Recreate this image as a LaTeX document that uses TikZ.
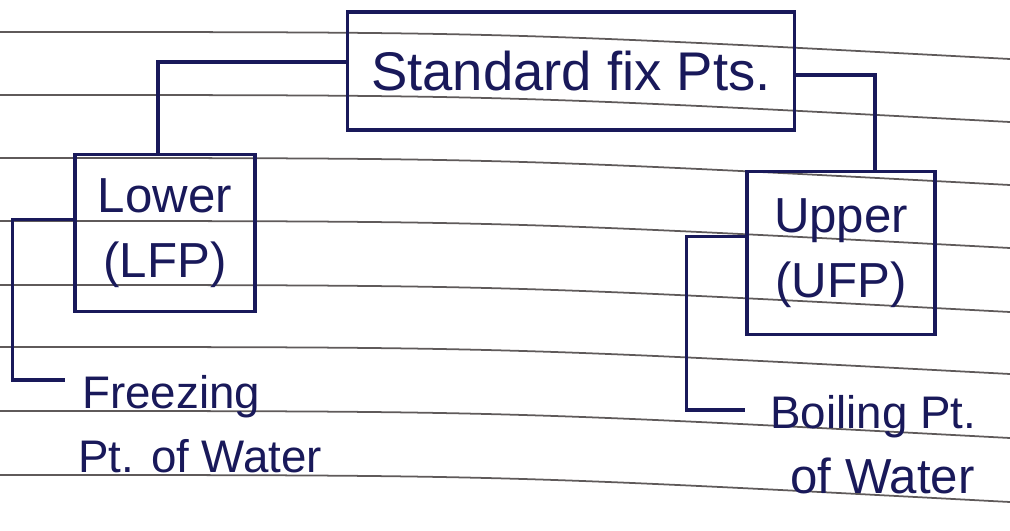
\documentclass[tikz,border=0pt]{standalone}
\usepackage{fontspec}
\setmainfont{Liberation Sans}
\usetikzlibrary{positioning, calc}
\definecolor{ink}{RGB}{25,25,90}
\definecolor{ruled}{RGB}{95,90,90}
\tikzset{
  box/.style={rectangle, draw=ink, text=ink, align=center,
    inner sep=0pt, line width=1.9pt},
  note/.style={text=ink, anchor=base west, inner sep=0pt,
    font=\fontsize{26}{30}\selectfont},
  link/.style={draw=ink, line width=1.9pt},
  paperline/.style={draw=ruled, line width=1pt}
}

\begin{document}
\begin{tikzpicture}[x=0.2mm, y=-0.2mm]
  \useasboundingbox (0,0) rectangle (1010,530);

  % Ruled paper
  \foreach \y in {32,95,158,221,285,347,411,475}
    \draw[paperline] (0,\y) .. controls (500,\y) .. (1010,\y+27);

  % Nodes
  \node[box, minimum width=8.94cm, minimum height=2.36cm,
    font=\fontsize{31}{36}\selectfont] (fixpts) at (571,71) {Standard fix Pts.};
  \node[box, minimum width=3.6cm, minimum height=3.14cm,
    font=\fontsize{28}{37}\selectfont] (lower) at (165,233) {Lower\\(LFP)};
  \node[box, minimum width=3.76cm, minimum height=3.26cm,
    font=\fontsize{28}{37}\selectfont] (upper) at (841,253) {Upper\\(UFP)};

  % Labels
  \node[note] (frz1) at (82,408) {Freezing};
  \node[note] (frz2) at (78,472) {Pt. of Water};
  \node[note] (boil1) at (770,428) {Boiling Pt.};
  \node[note, font=\fontsize{28}{30}\selectfont] (boil2) at (790,493) {of Water};

  % Connectors
  \draw[link] ([yshift=0.18cm]fixpts.west) -| ([xshift=-0.14cm]lower.north);
  \draw[link] ([yshift=-0.08cm]fixpts.east) -| ([xshift=0.68cm]upper.north);
  \draw[link] ([yshift=0.27cm]lower.west) -- ++(-61,0)
    |- ([xshift=-0.34cm, yshift=0.56cm]frz1.base west);
  \draw[link] ([yshift=0.33cm]upper.west) -- ++(-59,0)
    |- ([xshift=-0.5cm, yshift=0.36cm]boil1.base west);
\end{tikzpicture}
\end{document}
